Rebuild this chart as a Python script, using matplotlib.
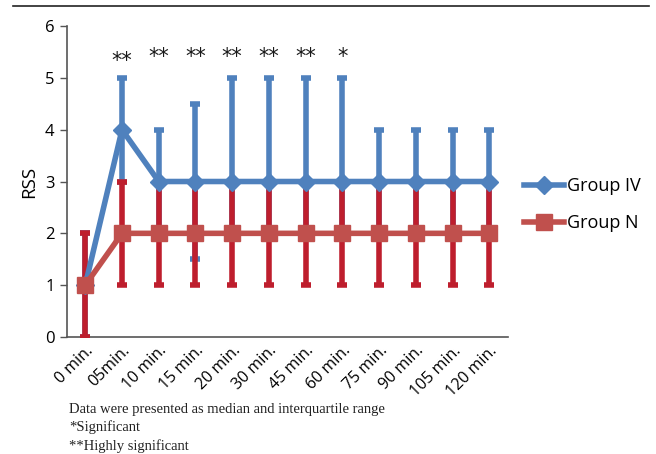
import numpy as np
import matplotlib
matplotlib.use("Agg")
import matplotlib.pyplot as plt
from matplotlib.lines import Line2D

# time points and medians
times = ['0 min.', '05min.', '10 min.', '15 min.', '20 min.', '30 min.',
         '45 min.', '60 min.', '75 min.', '90 min.', '105 min.', '120 min.']
iv_median = [1, 4, 3, 3, 3, 3, 3, 3, 3, 3, 3, 3]
iv_low = [0, 3, 2, 1.5, 2, 2, 2, 2, 2, 2, 2, 2]
iv_high = [2, 5, 4, 4.5, 5, 5, 5, 5, 4, 4, 4, 4]
n_median = [1, 2, 2, 2, 2, 2, 2, 2, 2, 2, 2, 2]
n_low = [0, 1, 1, 1, 1, 1, 1, 1, 1, 1, 1, 1]
n_high = [2, 3, 3, 3, 3, 3, 3, 3, 3, 3, 3, 3]
stars = ['', '**', '**', '**', '**', '**', '**', '*', '', '', '', '']
star_y = [0, 5.33, 5.41, 5.41, 5.41, 5.41, 5.41, 5.41, 0, 0, 0, 0]

blue = '#4F81BD'
red_line = '#C0504D'
red_bar = '#BE1E2D'

plt.rcParams['font.family'] = ['Open Sans', 'DejaVu Sans']

fig = plt.figure(figsize=(6.56, 4.54), dpi=100)
ax = fig.add_axes([0.102, 0.2577, 0.672, 0.685])

x = np.arange(len(times))
iv_m = np.array(iv_median, dtype=float)
n_m = np.array(n_median, dtype=float)

ax.errorbar(x, iv_m, yerr=[iv_m - np.array(iv_low), np.array(iv_high) - iv_m],
            fmt='none', ecolor=blue, elinewidth=4, capsize=3.5, capthick=4, zorder=2)
ax.errorbar(x, n_m, yerr=[n_m - np.array(n_low), np.array(n_high) - n_m],
            fmt='none', ecolor=red_bar, elinewidth=4, capsize=3.5, capthick=4, zorder=3)
ax.plot(x, iv_m, color=blue, lw=4, marker='D', ms=9, zorder=4)
ax.plot(x, n_m, color=red_line, lw=4, marker='s', ms=12, zorder=5)

for i, s in enumerate(stars):
    if s:
        ax.text(x[i], star_y[i], s, ha='center', va='center', fontsize=15,
                family='DejaVu Sans', color='#1a1a1a')

ax.set_xlim(-0.5, len(times) - 0.5)
ax.set_ylim(0, 6)
ax.set_yticks(range(0, 7))
ax.tick_params(axis='y', labelsize=12, length=5, width=1, color='#555555', pad=4)
ax.set_xticks(x)
ax.set_xticklabels(times, rotation=45, ha='right', rotation_mode='anchor', fontsize=11.5)
ax.tick_params(axis='x', length=0, pad=4)
ax.set_ylabel('RSS', fontsize=13.5, labelpad=5)

for side in ['top', 'right']:
    ax.spines[side].set_visible(False)
ax.spines['left'].set_color('#555555')
ax.spines['bottom'].set_color('#555555')
ax.spines['left'].set_linewidth(1.2)
ax.spines['bottom'].set_linewidth(1.2)

handles = [Line2D([], [], color=blue, lw=4, marker='D', ms=9),
           Line2D([], [], color=red_line, lw=4, marker='s', ms=12)]
fig.legend(handles, ['Group IV', 'Group N'], loc='center left',
           bbox_to_anchor=(0.774, 0.549), frameon=False, fontsize=13,
           handlelength=2.2, handletextpad=0.2, labelspacing=1.05)

# page rule at top
fig.add_artist(Line2D([0.02, 0.99], [0.987, 0.987], color='#222222', lw=1.2))

caption = ['Data were presented as median and interquartile range',
           '*Significant', '**Highly significant']
for k, line in enumerate(caption):
    fig.text(0.105, 1 - (409 + 18.5 * k) / 454, line, ha='left', va='center',
             fontsize=10.5, family='Liberation Serif', color='#222222')

fig.savefig('out.png', dpi=100)
